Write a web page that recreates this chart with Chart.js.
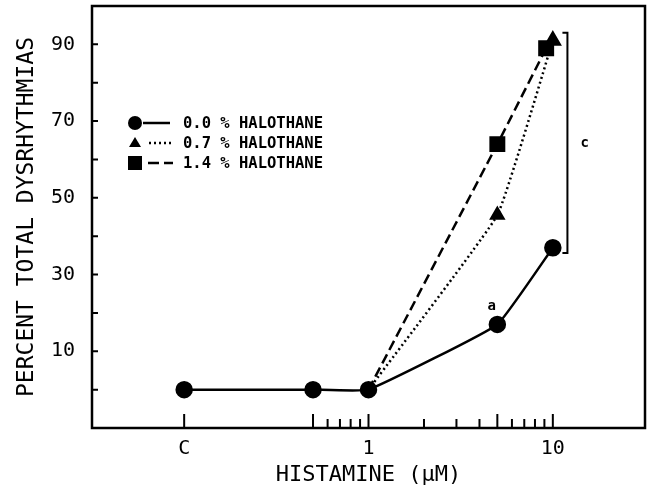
<!DOCTYPE html>
<html>
<head>
<meta charset="utf-8">
<script src="https://cdn.jsdelivr.net/npm/chart.js@4/dist/chart.umd.min.js"></script>
<style>
  html, body { margin: 0; padding: 0; background: #fff; }
  #wrap { width: 648px; height: 491px; }
</style>
</head>
<body>
<div id="wrap"><canvas id="chart"></canvas></div>
<script>
// "C" (control) is placed one decade below 1 uM on the log axis
const controlDose = 0.1;

const doses00 = [controlDose, 0.5, 1, 5, 10];
const pct00 = [0, 0, 0, 17, 37];
const doses07 = [1, 5, 10];
const pct07 = [0, 45.5, 91];
const doses14 = [1, 5, 9.2];
const pct14 = [0, 64, 89];

const seriesNames = ["0.0 % HALOTHANE", "0.7 % HALOTHANE", "1.4 % HALOTHANE"];

const xTickValues = [controlDose, 0.5, 0.6, 0.7, 0.8, 0.9, 1, 2, 3, 4, 5, 6, 7, 8, 9, 10];
const xTickText = ["C", "", "", "", "", "", "1", "", "", "", "", "", "", "", "", "10"];
const xMajorTicks = [controlDose, 0.5, 1, 5, 10];
const yTickValues = [0, 10, 20, 30, 40, 50, 60, 70, 80, 90];
const yTickText = ["", "10", "", "30", "", "50", "", "70", "", "90"];

// significance marks
const markA = {x: 4.66, y: 21.8, text: "a"};
const bracketC = {x: 12.0, yTop: 93, yBottom: 35.6, text: "c", textX: 14.9};

const FONT = "'DejaVu Sans Mono', 'Liberation Mono', monospace";

function toPoints(xs, ys) {
  return xs.map((x, i) => ({x, y: ys[i]}));
}

const noPadding = () => ({left: 0, top: 0, right: 0, bottom: 0});

const frameAndTicks = {
  id: "frameAndTicks",
  afterDraw(chart) {
    const {ctx, chartArea: a} = chart;
    const xs = chart.scales.x, ys = chart.scales.y;
    ctx.save();
    ctx.strokeStyle = "#000";
    ctx.lineWidth = 2.5;
    ctx.strokeRect(a.left, a.top, a.right - a.left, a.bottom - a.top);
    ctx.lineWidth = 2;
    ctx.beginPath();
    xTickValues.forEach(v => {
      const px = xs.getPixelForValue(v);
      const len = xMajorTicks.includes(v) ? 14 : 9;
      ctx.moveTo(px, a.bottom);
      ctx.lineTo(px, a.bottom - len);
    });
    yTickValues.forEach(v => {
      const py = ys.getPixelForValue(v);
      ctx.moveTo(a.left, py);
      ctx.lineTo(a.left + 6, py);
    });
    ctx.stroke();

    // bracket and letters
    const bx = xs.getPixelForValue(bracketC.x);
    const bt = ys.getPixelForValue(bracketC.yTop);
    const bb = ys.getPixelForValue(bracketC.yBottom);
    ctx.beginPath();
    ctx.moveTo(bx - 5, bt);
    ctx.lineTo(bx, bt);
    ctx.lineTo(bx, bb);
    ctx.lineTo(bx - 5, bb);
    ctx.stroke();
    ctx.fillStyle = "#000";
    ctx.textAlign = "center";
    ctx.textBaseline = "middle";
    ctx.font = "bold 14px " + FONT;
    ctx.fillText(bracketC.text, xs.getPixelForValue(bracketC.textX), ys.getPixelForValue((bracketC.yTop + bracketC.yBottom) / 2));
    ctx.fillText(markA.text, xs.getPixelForValue(markA.x), ys.getPixelForValue(markA.y));

    // legend
    const lx = a.left + 43;
    const rows = [a.top + 117, a.top + 137, a.top + 157];
    ctx.font = "bold 15.5px " + FONT;
    ctx.textAlign = "left";
    rows.forEach((ry, i) => {
      ctx.beginPath();
      if (i === 0) {
        ctx.arc(lx, ry, 7, 0, Math.PI * 2);
        ctx.fill();
        ctx.lineWidth = 2.5;
        ctx.beginPath();
        ctx.moveTo(lx + 8, ry);
        ctx.lineTo(lx + 35, ry);
        ctx.stroke();
      } else if (i === 1) {
        ctx.moveTo(lx, ry - 6);
        ctx.lineTo(lx + 6, ry + 4);
        ctx.lineTo(lx - 6, ry + 4);
        ctx.closePath();
        ctx.fill();
        ctx.lineWidth = 2.5;
        ctx.setLineDash([2, 3]);
        ctx.beginPath();
        ctx.moveTo(lx + 14, ry);
        ctx.lineTo(lx + 36, ry);
        ctx.stroke();
        ctx.setLineDash([]);
      } else {
        ctx.fillRect(lx - 7, ry - 7, 14, 14);
        ctx.lineWidth = 2.5;
        ctx.setLineDash([11, 5]);
        ctx.beginPath();
        ctx.moveTo(lx + 13, ry);
        ctx.lineTo(lx + 38, ry);
        ctx.stroke();
        ctx.setLineDash([]);
      }
      ctx.fillText(seriesNames[i], lx + 48, ry + 1);
    });
    ctx.restore();
  }
};

new Chart(document.getElementById("chart"), {
  type: "scatter",
  data: {
    datasets: [
      {
        label: seriesNames[0],
        data: toPoints(doses00, pct00),
        showLine: true,
        borderColor: "#000",
        backgroundColor: "#000",
        borderWidth: 2.5,
        tension: 0.1,
        pointStyle: "circle",
        pointRadius: 7.5,
      },
      {
        label: seriesNames[1],
        data: toPoints(doses07, pct07),
        showLine: true,
        borderColor: "#000",
        backgroundColor: "#000",
        borderWidth: 2.5,
        borderDash: [2, 3],
        tension: 0.1,
        pointStyle: "triangle",
        pointRadius: [0, 7, 8],
      },
      {
        label: seriesNames[2],
        data: toPoints(doses14, pct14),
        showLine: true,
        borderColor: "#000",
        backgroundColor: "#000",
        borderWidth: 2.5,
        borderDash: [10, 5],
        tension: 0.15,
        pointStyle: "rect",
        pointRadius: [0, 9.5, 9.5],
      },
    ],
  },
  options: {
    responsive: true,
    maintainAspectRatio: false,
    animation: false,
    layout: {autoPadding: false, padding: {top: 6, right: 3, left: 0, bottom: 0}},
    plugins: {legend: {display: false}, tooltip: {enabled: false}},
    scales: {
      x: {
        type: "logarithmic",
        min: Math.pow(10, -1.5),
        max: Math.pow(10, 1.5),
        afterBuildTicks: scale => { scale.ticks = xTickValues.map(v => ({value: v})); },
        afterFit: scale => {
          scale.height = 63;
          scale.getPadding = noPadding;
        },
        grid: {display: false, drawTicks: false},
        border: {display: false},
        ticks: {
          autoSkip: false,
          maxRotation: 0,
          padding: 9,
          color: "#000",
          font: {family: FONT, size: 20},
          callback: (value, index) => xTickText[index],
        },
        title: {
          display: true,
          text: "HISTAMINE (μM)",
          color: "#000",
          font: {family: FONT, size: 22},
          padding: {top: 0, bottom: 3},
        },
      },
      y: {
        min: -10,
        max: 100,
        afterBuildTicks: scale => { scale.ticks = yTickValues.map(v => ({value: v})); },
        afterFit: scale => {
          scale.width = 92;
          scale.getPadding = noPadding;
        },
        grid: {display: false, drawTicks: false},
        border: {display: false},
        ticks: {
          autoSkip: false,
          padding: 17,
          color: "#000",
          font: {family: FONT, size: 20},
          callback: (value, index) => yTickText[index],
        },
        title: {
          display: true,
          text: "PERCENT TOTAL DYSRHYTHMIAS",
          color: "#000",
          font: {family: FONT, size: 23},
          padding: {top: 13, bottom: 0},
        },
      },
    },
  },
  plugins: [frameAndTicks],
});
</script>
</body>
</html>
